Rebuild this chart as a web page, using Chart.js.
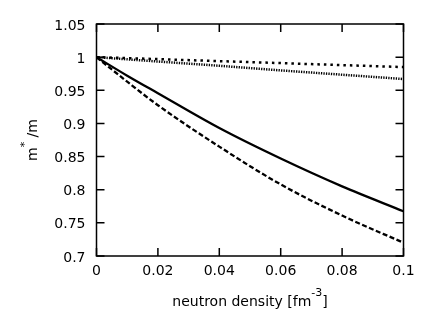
<!DOCTYPE html>
<html>
<head>
<meta charset="utf-8">
<script src="https://cdn.jsdelivr.net/npm/chart.js@4/dist/chart.umd.min.js"></script>
<style>
  html, body { margin: 0; padding: 0; background: #fff; }
  #wrap { width: 436px; height: 312px; position: relative; }
</style>
</head>
<body>
<div id="wrap"><canvas id="myChart"></canvas></div>
<script>
// values
const density = [0, 0.01, 0.02, 0.04, 0.06, 0.08, 0.1];
const solidSeries = [1, 0.972, 0.9455, 0.893, 0.847, 0.805, 0.7675];
const dashedSeries = [1, 0.963, 0.9275, 0.865, 0.808, 0.761, 0.72];
const dotsUpper = [1, 0.9985, 0.997, 0.994, 0.991, 0.988, 0.985];
const dotsLower = [1, 0.9967, 0.9934, 0.987, 0.980, 0.9735, 0.967];

const xTickLabels = ['0', '0.02', '0.04', '0.06', '0.08', '0.1'];
const yTickLabels = ['0.7', '0.75', '0.8', '0.85', '0.9', '0.95', '1', '1.05'];

const FONT = 'DejaVu Sans';

function pts(ys) {
  return density.map((x, i) => ({ x: x, y: ys[i] }));
}

// frame, inward ticks on all four sides, axis titles with superscripts
const framePlugin = {
  id: 'frame',
  afterDatasetsDraw(chart) {
    const ctx = chart.ctx;
    const a = chart.chartArea;
    const xs = chart.scales.x, ys = chart.scales.y;
    const tl = 8;
    ctx.save();
    ctx.strokeStyle = '#000';
    ctx.lineWidth = 1.5;
    ctx.beginPath();
    xs.ticks.forEach(t => {
      const px = xs.getPixelForValue(t.value);
      ctx.moveTo(px, a.bottom); ctx.lineTo(px, a.bottom - tl);
      ctx.moveTo(px, a.top); ctx.lineTo(px, a.top + tl);
    });
    ys.ticks.forEach(t => {
      const py = ys.getPixelForValue(t.value);
      ctx.moveTo(a.left, py); ctx.lineTo(a.left + tl, py);
      ctx.moveTo(a.right, py); ctx.lineTo(a.right - tl, py);
    });
    ctx.stroke();
    ctx.strokeRect(a.left, a.top, a.right - a.left, a.bottom - a.top);

    ctx.fillStyle = '#000';
    ctx.textBaseline = 'alphabetic';
    ctx.textAlign = 'left';

    // x title: neutron density [fm^-3]
    const main = '14px "' + FONT + '"', sup = '11px "' + FONT + '"';
    ctx.font = main;
    const p1 = 'neutron density [fm', p3 = ']';
    const w1 = ctx.measureText(p1).width, w3 = ctx.measureText(p3).width;
    ctx.font = sup;
    const p2 = '-3';
    const w2 = ctx.measureText(p2).width;
    let x0 = (a.left + a.right) / 2 - (w1 + w2 + w3) / 2;
    const by = 306;
    ctx.font = main; ctx.fillText(p1, x0, by);
    ctx.font = sup; ctx.fillText(p2, x0 + w1, by - 10);
    ctx.font = main; ctx.fillText(p3, x0 + w1 + w2, by);

    // y title: m^* /m, rotated
    ctx.translate(37, (a.top + a.bottom) / 2);
    ctx.rotate(-Math.PI / 2);
    const ymain = '14px "' + FONT + '"';
    ctx.font = ymain;
    const q1 = 'm', q3 = ' /m';
    const v1 = ctx.measureText(q1).width, v3 = ctx.measureText(q3).width;
    ctx.font = sup;
    const q2 = '*';
    const v2 = ctx.measureText(q2).width;
    x0 = -(v1 + v2 + v3) / 2;
    ctx.font = ymain; ctx.fillText(q1, x0, 0);
    ctx.font = sup; ctx.fillText(q2, x0 + v1, -9);
    ctx.font = ymain; ctx.fillText(q3, x0 + v1 + v2, 0);
    ctx.restore();
  }
};

const ctx = document.getElementById('myChart').getContext('2d');
new Chart(ctx, {
  type: 'line',
  data: {
    datasets: [
      { data: pts(solidSeries), borderColor: '#000', borderWidth: 2.3, pointRadius: 0, cubicInterpolationMode: 'monotone' },
      { data: pts(dashedSeries), borderColor: '#000', borderWidth: 2.3, borderDash: [5, 2.5], pointRadius: 0, cubicInterpolationMode: 'monotone' },
      { data: pts(dotsUpper), borderColor: '#000', borderWidth: 2.5, borderDash: [2.5, 4], pointRadius: 0 },
      { data: pts(dotsLower), borderColor: '#000', borderWidth: 2.5, borderDash: [1.3, 1.2], pointRadius: 0 }
    ]
  },
  options: {
    responsive: true,
    maintainAspectRatio: false,
    animation: false,
    layout: { padding: { top: 24, right: 32.5, left: 0, bottom: 0 } },
    plugins: { legend: { display: false }, tooltip: { enabled: false } },
    scales: {
      x: {
        type: 'linear',
        min: 0,
        max: 0.1,
        grid: { display: false, drawTicks: false },
        border: { display: false },
        ticks: {
          stepSize: 0.02,
          autoSkip: false,
          maxRotation: 0,
          padding: 7,
          color: '#000',
          font: { family: FONT, size: 14 },
          callback: (v, i) => xTickLabels[i]
        },
        afterFit: s => { s.height = 56; }
      },
      y: {
        type: 'linear',
        min: 0.7,
        max: 1.05,
        grid: { display: false, drawTicks: false },
        border: { display: false },
        ticks: {
          stepSize: 0.05,
          autoSkip: false,
          padding: 11,
          labelOffset: 2,
          color: '#000',
          font: { family: FONT, size: 14 },
          callback: (v, i) => yTickLabels[i]
        },
        afterFit: s => { s.width = 96.5; }
      }
    }
  },
  plugins: [framePlugin]
});
</script>
</body>
</html>
